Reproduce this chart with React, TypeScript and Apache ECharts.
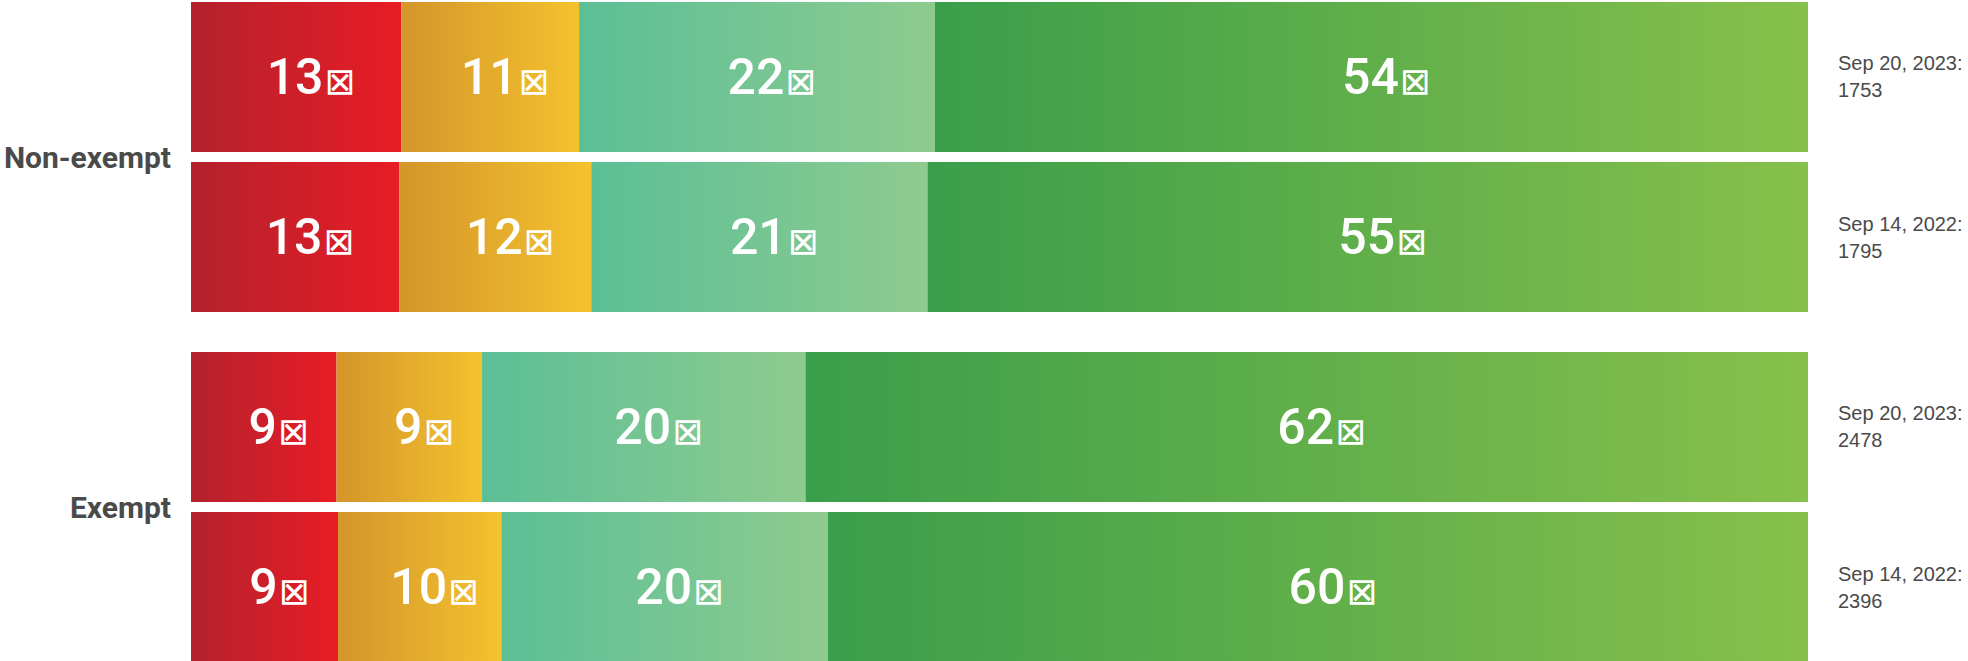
import React, { useEffect, useRef } from "react";
import * as echarts from "echarts";

// Categories (y axis) and survey rows
const categories = ["Non-exempt", "Exempt"];
const surveys = ["Sep 20, 2023", "Sep 14, 2022"];
const segments = ["Segment 1", "Segment 2", "Segment 3", "Segment 4"];

// Percentages per segment, per survey row
const nonExempt2023 = [13, 11, 22, 54];
const nonExempt2022 = [13, 12, 21, 55];
const exempt2023 = [9, 9, 20, 62];
const exempt2022 = [9, 10, 20, 60];

// Respondent counts per survey: [Non-exempt, Exempt]
const respondents2023 = [1753, 2478];
const respondents2022 = [1795, 2396];

const segmentColors = [
  ["#B3222D", "#E81C25"],
  ["#D4952A", "#F4C22E"],
  ["#5BBF96", "#8ECB8F"],
  ["#3A9E4A", "#87C04B"],
];

export default function App() {
  const ref = useRef<HTMLDivElement>(null);

  useEffect(() => {
    if (!ref.current) return;
    const chart = echarts.init(ref.current, undefined, { renderer: "svg" });

    const surveyValues = [
      [nonExempt2023, exempt2023],
      [nonExempt2022, exempt2022],
    ];
    const respondents = [respondents2023, respondents2022];

    const series: any[] = [];
    surveys.forEach((survey, s) => {
      segments.forEach((seg, k) => {
        series.push({
          type: "bar",
          name: seg,
          stack: "survey" + s,
          barWidth: 150,
          barGap: "6.67%",
          data: categories.map((c, ci) => {
            const row = surveyValues[s][ci];
            const sum = row.reduce((a, b) => a + b, 0);
            return { value: (row[k] / sum) * 100, raw: row[k] };
          }),
          itemStyle: {
            color: new echarts.graphic.LinearGradient(0, 0, 1, 0, [
              { offset: 0, color: segmentColors[k][0] },
              { offset: 1, color: segmentColors[k][1] },
            ]),
          },
          label: {
            show: true,
            position: "inside",
            offset: [15, 0],
            formatter: (p: any) => `{v|${p.data.raw}}{b|⊠}`,
            rich: {
              v: {
                fontFamily: "Roboto",
                fontWeight: 500,
                fontSize: 50,
                lineHeight: 50,
                color: "#ffffff",
              },
              b: {
                fontFamily: "DejaVu Sans",
                fontSize: 37,
                lineHeight: 37,
                verticalAlign: "bottom",
                color: "#ffffff",
                padding: [0, 0, 2, 1],
              },
            },
          },
          emphasis: { disabled: true },
        });
      });
      series.push({
        type: "bar",
        name: survey,
        stack: "survey" + s,
        barWidth: 150,
        barGap: "6.67%",
        data: categories.map((c, ci) => ({
          value: 0,
          date: survey,
          n: respondents[s][ci],
        })),
        itemStyle: { color: "rgba(0,0,0,0)" },
        label: {
          show: true,
          position: "right",
          distance: 30,
          align: "left",
          formatter: (p: any) => `${p.data.date}:\n${p.data.n}`,
          fontFamily: "Liberation Sans",
          fontSize: 20,
          lineHeight: 27,
          color: "#4a4a4a",
        },
        emphasis: { disabled: true },
      });
    });

    chart.setOption({
      animation: false,
      grid: {
        left: 191,
        right: 160,
        top: 0,
        bottom: 0,
        containLabel: false,
        outerBoundsMode: "none",
      },
      xAxis: {
        type: "value",
        min: 0,
        max: 100,
        show: false,
      },
      yAxis: {
        type: "category",
        data: categories,
        inverse: true,
        axisLine: { show: false },
        axisTick: { show: false },
        axisLabel: {
          margin: 20,
          fontFamily: "Roboto",
          fontWeight: "bold",
          fontSize: 30,
          color: "#4a4a4a",
        },
      },
      series,
    });

    return () => chart.dispose();
  }, []);

  return (
    <div
      style={{
        position: "fixed",
        left: 0,
        top: 0,
        width: 1968,
        height: 661,
        overflow: "hidden",
        background: "#ffffff",
      }}
    >
      <div
        ref={ref}
        style={{ position: "absolute", left: 0, top: -18, width: 1968, height: 700 }}
      />
    </div>
  );
}
